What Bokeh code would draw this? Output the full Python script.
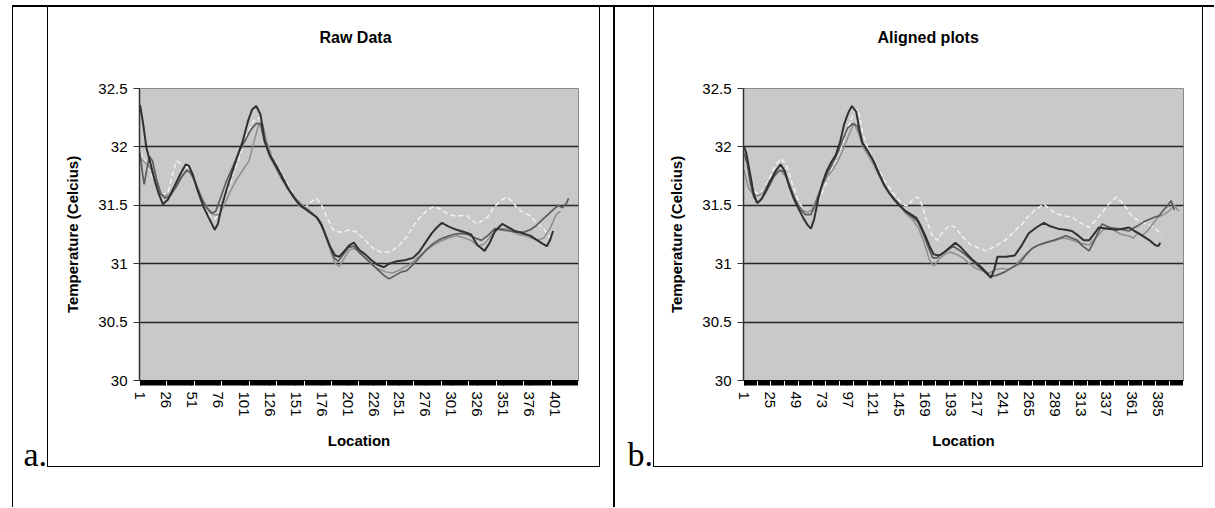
from bokeh.plotting import figure
from bokeh.models import Range1d, FixedTicker, Div, CustomJSTickFormatter, LinearAxis
from bokeh.layouts import row, column
from bokeh.embed import file_html
from bokeh.resources import INLINE

# ---------------- data ----------------
raw_title = "Raw Data"
aligned_title = "Aligned plots"
x_label = "Location"
y_label = "Temperature (Celcius)"

raw_n_locations = 423
aligned_n_locations = 408
raw_ticks = [1, 26, 51, 76, 101, 126, 151, 176, 201, 226, 251, 276, 301, 326, 351, 376, 401]
aligned_ticks = [1, 25, 49, 73, 97, 121, 145, 169, 193, 217, 241, 265, 289, 313, 337, 361, 385]
temp_ticks = [30, 30.5, 31, 31.5, 32, 32.5]

raw_dark = [(1, 32.36), (4, 32.2), (7, 32.0), (11, 31.86), (15, 31.72), (19, 31.6), (23, 31.51), (28, 31.55),
            (34, 31.66), (40, 31.77), (45, 31.85), (48, 31.84), (52, 31.76), (56, 31.64), (62, 31.49), (68, 31.38),
            (73, 31.29), (76, 31.34), (80, 31.5), (85, 31.65), (90, 31.79), (96, 31.95), (100, 32.05), (105, 32.22),
            (109, 32.32), (113, 32.35), (117, 32.28), (121, 32.06), (126, 31.93), (132, 31.84), (138, 31.74),
            (143, 31.65), (149, 31.57), (155, 31.5), (160, 31.47), (166, 31.43), (171, 31.4), (176, 31.33),
            (180, 31.24), (184, 31.15), (189, 31.07), (193, 31.06), (198, 31.11), (203, 31.16), (207, 31.18),
            (212, 31.12), (218, 31.08), (224, 31.03), (230, 30.99), (236, 30.97), (241, 31.0), (248, 31.02),
            (256, 31.03), (264, 31.05), (270, 31.1), (276, 31.18), (282, 31.26), (287, 31.31), (292, 31.35),
            (298, 31.32), (306, 31.29), (314, 31.27), (320, 31.25), (326, 31.16), (333, 31.11), (338, 31.18),
            (343, 31.28), (350, 31.34), (356, 31.31), (362, 31.28), (370, 31.26), (377, 31.24), (384, 31.2),
            (389, 31.17), (393, 31.15), (396, 31.2), (399, 31.28)]
raw_mid = [(1, 31.95), (3, 31.8), (5, 31.68), (7, 31.78), (10, 31.92), (13, 31.88), (17, 31.72), (21, 31.6),
           (25, 31.56), (30, 31.58), (36, 31.66), (41, 31.74), (46, 31.8), (50, 31.78), (55, 31.68), (60, 31.56),
           (65, 31.48), (70, 31.43), (74, 31.45), (78, 31.55), (84, 31.7), (90, 31.82), (96, 31.95), (102, 32.05),
           (108, 32.15), (113, 32.2), (117, 32.2), (121, 32.04), (126, 31.92), (132, 31.82), (138, 31.72),
           (144, 31.64), (150, 31.56), (156, 31.5), (162, 31.46), (168, 31.42), (173, 31.38), (178, 31.28),
           (183, 31.16), (188, 31.05), (192, 31.02), (197, 31.08), (202, 31.14), (207, 31.15), (212, 31.1),
           (218, 31.05), (224, 31.0), (230, 30.95), (236, 30.9), (241, 30.87), (247, 30.9), (253, 30.93),
           (258, 30.94), (265, 31.0), (271, 31.06), (277, 31.12), (283, 31.17), (290, 31.21), (296, 31.23),
           (303, 31.25), (310, 31.26), (317, 31.25), (324, 31.22), (330, 31.2), (336, 31.24), (343, 31.3),
           (350, 31.29), (357, 31.28), (364, 31.27), (371, 31.27), (377, 31.29), (382, 31.32), (388, 31.37),
           (394, 31.42), (400, 31.47), (404, 31.5), (408, 31.48), (412, 31.52), (414, 31.56)]
raw_light = [(1, 31.9), (4, 31.88), (8, 31.85), (12, 31.8), (16, 31.68), (20, 31.6), (25, 31.58), (30, 31.6),
             (36, 31.68), (42, 31.76), (47, 31.8), (52, 31.74), (57, 31.64), (62, 31.54), (67, 31.47), (72, 31.42),
             (77, 31.42), (82, 31.5), (88, 31.62), (94, 31.72), (100, 31.8), (106, 31.88), (111, 32.05),
             (115, 32.18), (119, 32.2), (123, 32.05), (128, 31.92), (134, 31.82), (140, 31.72), (146, 31.62),
             (152, 31.55), (158, 31.5), (164, 31.46), (170, 31.41), (175, 31.36), (180, 31.25), (185, 31.1),
             (189, 31.0), (193, 30.98), (198, 31.05), (203, 31.12), (208, 31.13), (214, 31.08), (220, 31.03),
             (226, 30.98), (232, 30.95), (238, 30.93), (244, 30.92), (250, 30.94), (256, 30.97), (262, 31.0),
             (268, 31.05), (275, 31.1), (282, 31.15), (290, 31.19), (298, 31.22), (306, 31.24), (314, 31.22),
             (320, 31.2), (327, 31.15), (333, 31.17), (340, 31.25), (347, 31.3), (354, 31.3), (360, 31.27),
             (366, 31.25), (372, 31.24), (378, 31.22), (384, 31.2), (390, 31.22), (396, 31.3), (402, 31.42),
             (406, 31.45)]
raw_white = [(1, 31.95), (8, 31.85), (15, 31.7), (22, 31.58), (28, 31.62), (36, 31.88), (44, 31.84), (50, 31.8),
             (56, 31.66), (62, 31.52), (68, 31.4), (73, 31.38), (78, 31.45), (85, 31.62), (92, 31.8), (98, 31.95),
             (104, 32.1), (110, 32.22), (116, 32.25), (121, 32.1), (127, 31.95), (133, 31.85), (140, 31.74),
             (147, 31.62), (154, 31.5), (160, 31.48), (166, 31.53), (171, 31.56), (176, 31.5), (182, 31.38),
             (188, 31.28), (195, 31.27), (203, 31.29), (210, 31.27), (218, 31.2), (226, 31.13), (233, 31.1),
             (242, 31.1), (250, 31.15), (258, 31.23), (265, 31.33), (271, 31.4), (278, 31.46), (284, 31.49),
             (290, 31.47), (297, 31.43), (303, 31.41), (310, 31.41), (316, 31.41), (321, 31.37), (326, 31.34),
             (331, 31.37), (336, 31.4), (341, 31.47), (345, 31.51), (350, 31.55), (355, 31.57), (360, 31.53),
             (364, 31.48), (370, 31.44), (377, 31.41), (383, 31.35), (389, 31.31), (393, 31.26), (397, 31.21)]

aligned_dark = [(1, 32.0), (3, 31.95), (6, 31.8), (10, 31.6), (13, 31.52), (17, 31.55), (21, 31.62), (25, 31.7),
                (30, 31.79), (35, 31.85), (39, 31.79), (43, 31.66), (47, 31.56), (51, 31.48), (56, 31.39),
                (60, 31.33), (63, 31.3), (66, 31.38), (70, 31.56), (74, 31.7), (78, 31.8), (82, 31.87), (86, 31.93),
                (90, 32.04), (94, 32.2), (98, 32.3), (101, 32.35), (105, 32.3), (108, 32.15), (111, 32.03),
                (116, 31.96), (121, 31.88), (126, 31.77), (131, 31.67), (136, 31.6), (141, 31.54), (146, 31.49),
                (151, 31.45), (156, 31.42), (161, 31.39), (165, 31.32), (169, 31.24), (173, 31.15), (177, 31.08),
                (182, 31.07), (187, 31.1), (192, 31.14), (197, 31.18), (202, 31.14), (207, 31.09), (212, 31.04),
                (216, 31.01), (221, 30.97), (226, 30.92), (230, 30.88), (233, 30.95), (236, 31.06), (244, 31.06),
                (252, 31.07), (258, 31.15), (265, 31.26), (272, 31.31), (279, 31.35), (285, 31.32), (292, 31.3),
                (299, 31.29), (305, 31.28), (311, 31.24), (316, 31.2), (321, 31.2), (326, 31.26), (330, 31.31),
                (338, 31.3), (346, 31.29), (352, 31.3), (358, 31.31), (363, 31.28), (367, 31.26), (372, 31.23),
                (377, 31.2), (382, 31.16), (385, 31.15), (387, 31.18)]
aligned_mid = [(1, 31.95), (4, 31.85), (7, 31.68), (10, 31.57), (14, 31.52), (19, 31.58), (24, 31.66), (29, 31.75),
               (34, 31.8), (38, 31.79), (43, 31.68), (48, 31.56), (53, 31.47), (58, 31.42), (63, 31.42), (67, 31.5),
               (72, 31.64), (77, 31.75), (82, 31.84), (87, 31.93), (92, 32.05), (97, 32.16), (102, 32.2),
               (106, 32.18), (110, 32.05), (115, 31.97), (120, 31.9), (126, 31.78), (131, 31.68), (136, 31.6),
               (141, 31.55), (146, 31.5), (151, 31.44), (157, 31.4), (162, 31.36), (167, 31.26), (172, 31.14),
               (176, 31.05), (180, 31.05), (185, 31.09), (190, 31.12), (195, 31.15), (200, 31.12), (206, 31.08),
               (212, 31.03), (218, 30.98), (224, 30.93), (229, 30.89), (235, 30.9), (243, 30.93), (250, 30.97),
               (256, 31.0), (262, 31.07), (268, 31.13), (274, 31.16), (281, 31.18), (288, 31.2), (294, 31.22),
               (299, 31.24), (305, 31.22), (310, 31.2), (315, 31.15), (321, 31.11), (326, 31.2), (333, 31.34),
               (340, 31.31), (347, 31.3), (353, 31.29), (358, 31.28), (363, 31.31), (367, 31.33), (372, 31.36),
               (377, 31.38), (382, 31.4), (386, 31.41), (390, 31.46), (394, 31.5), (397, 31.54), (400, 31.46)]
aligned_light = [(1, 31.8), (5, 31.65), (9, 31.6), (13, 31.58), (18, 31.6), (24, 31.7), (30, 31.78), (35, 31.8),
                 (40, 31.74), (45, 31.62), (50, 31.52), (55, 31.46), (60, 31.44), (64, 31.46), (68, 31.55),
                 (73, 31.66), (78, 31.74), (83, 31.8), (88, 31.88), (93, 31.98), (98, 32.1), (103, 32.2),
                 (107, 32.12), (111, 32.0), (116, 31.93), (121, 31.85), (127, 31.74), (133, 31.64), (139, 31.56),
                 (145, 31.5), (151, 31.43), (157, 31.38), (163, 31.3), (168, 31.18), (173, 31.03), (177, 30.98),
                 (182, 31.04), (187, 31.08), (192, 31.1), (198, 31.08), (204, 31.05), (210, 31.0), (216, 30.96),
                 (222, 30.94), (228, 30.92), (234, 30.95), (240, 30.96), (246, 30.95), (252, 30.98), (258, 31.04),
                 (264, 31.1), (270, 31.14), (277, 31.17), (284, 31.19), (290, 31.2), (297, 31.22), (303, 31.21),
                 (309, 31.19), (315, 31.17), (321, 31.16), (327, 31.22), (333, 31.28), (339, 31.32), (345, 31.28),
                 (351, 31.25), (357, 31.24), (362, 31.22), (366, 31.26), (370, 31.24), (375, 31.28), (380, 31.34),
                 (385, 31.4), (390, 31.42), (395, 31.45), (400, 31.5), (404, 31.45)]
aligned_white = [(1, 31.95), (6, 31.75), (12, 31.6), (18, 31.62), (24, 31.72), (30, 31.84), (35, 31.9), (40, 31.85),
                 (46, 31.68), (52, 31.52), (58, 31.45), (63, 31.42), (68, 31.48), (74, 31.62), (80, 31.76),
                 (86, 31.88), (92, 32.02), (98, 32.18), (103, 32.3), (107, 32.32), (111, 32.12), (116, 31.98),
                 (121, 31.9), (126, 31.8), (132, 31.7), (138, 31.62), (144, 31.55), (150, 31.5), (154, 31.5),
                 (158, 31.56), (162, 31.57), (166, 31.5), (170, 31.38), (175, 31.25), (180, 31.2), (186, 31.28),
                 (192, 31.33), (197, 31.31), (203, 31.24), (210, 31.17), (217, 31.14), (225, 31.11), (234, 31.15),
                 (243, 31.2), (251, 31.27), (259, 31.34), (265, 31.41), (271, 31.46), (279, 31.51), (284, 31.47),
                 (290, 31.43), (297, 31.41), (305, 31.4), (313, 31.35), (321, 31.31), (328, 31.38), (334, 31.45),
                 (340, 31.52), (346, 31.57), (351, 31.53), (356, 31.47), (361, 31.4), (367, 31.37), (374, 31.34),
                 (381, 31.31), (386, 31.27), (389, 31.25)]

# ---------------- styling ----------------
SANS = "Liberation Sans"
SERIF = "Liberation Serif"
PLOT_BG = "#c9c9c9"
SERIES_STYLE = [
    ("white", dict(line_color="#f2f2f2", line_width=1.5, line_dash="5 3")),
    ("light", dict(line_color="#8e8e8e", line_width=1.5)),
    ("mid", dict(line_color="#5c5c5c", line_width=1.7)),
    ("dark", dict(line_color="#303030", line_width=2)),
]

FIG_H = 459
FRAME_TOP = 81
FRAME_BOTTOM = 86
TITLE_GAP = 38   # empty room between the title and the plot frame


def make_chart(title, title_offset, n_loc, ticks, series, width, border_left, border_right):
    p = figure(width=width, height=FIG_H, output_backend="svg", toolbar_location=None,
               x_range=Range1d(0.5, n_loc + 0.5), y_range=Range1d(30, 32.5),
               min_border_left=border_left, min_border_right=border_right,
               min_border_top=FRAME_TOP, min_border_bottom=FRAME_BOTTOM, margin=0)
    p.background_fill_color = PLOT_BG
    p.border_fill_color = "white"
    p.outline_line_color = "#8a8a8a"
    p.outline_line_width = 1

    p.title.text = title
    p.title.align = "left"
    p.title.offset = title_offset
    p.title.standoff = 10
    p.title.text_font = SANS
    p.title.text_font_size = "16px"
    p.title.text_font_style = "bold"
    p.title.text_color = "black"

    fmt = CustomJSTickFormatter(code="return String(tick);")

    xa = p.below[0]
    xa.ticker = FixedTicker(ticks=ticks, minor_ticks=list(range(1, n_loc + 1)))
    xa.formatter = fmt
    xa.axis_line_color = "black"
    xa.major_tick_line_color = "black"
    xa.minor_tick_line_color = "black"
    xa.major_tick_in = 0
    xa.major_tick_out = 5
    xa.minor_tick_in = 0
    xa.minor_tick_out = 5
    xa.major_label_orientation = "vertical"
    xa.major_label_standoff = 6
    xa.major_label_text_font = SANS
    xa.major_label_text_font_size = "15px"
    xa.major_label_text_color = "black"
    xa.axis_label = x_label
    xa.axis_label_text_font = SANS
    xa.axis_label_text_font_size = "15px"
    xa.axis_label_text_font_style = "bold"
    xa.axis_label_text_color = "black"
    xa.axis_label_standoff = 12

    ya = p.left[0]
    ya.ticker = FixedTicker(ticks=temp_ticks)
    ya.formatter = fmt
    ya.axis_line_color = "#303030"
    ya.axis_line_width = 1.5
    ya.major_tick_line_color = "#303030"
    ya.major_tick_in = 0
    ya.major_tick_out = 6
    ya.minor_tick_line_color = None
    ya.major_label_standoff = 6
    ya.major_label_text_font = SANS
    ya.major_label_text_font_size = "15px"
    ya.major_label_text_color = "black"
    ya.axis_label = y_label
    ya.axis_label_text_font = SANS
    ya.axis_label_text_font_size = "15px"
    ya.axis_label_text_font_style = "bold"
    ya.axis_label_text_color = "black"
    ya.axis_label_standoff = 14

    p.xgrid.visible = False
    p.ygrid.ticker = FixedTicker(ticks=temp_ticks)
    p.ygrid.grid_line_color = "#262626"
    p.ygrid.grid_line_width = 1.5

    for name, style in SERIES_STYLE:
        pts = series[name]
        p.line([a for a, _ in pts], [b for _, b in pts], **style)

    # invisible spacer axis above the frame (one hidden tick, empty label) so the title sits higher
    gap = LinearAxis(ticker=FixedTicker(ticks=[ticks[0]]), axis_line_color=None,
                     formatter=CustomJSTickFormatter(code='return "";'),
                     major_tick_line_color=None, minor_tick_line_color=None,
                     major_tick_in=0, major_tick_out=TITLE_GAP, minor_tick_in=0, minor_tick_out=0,
                     major_label_standoff=0, major_label_text_font_size="1px")
    p.add_layout(gap, "above")
    return p


p1 = make_chart(raw_title, 180, raw_n_locations, raw_ticks,
                {"dark": raw_dark, "mid": raw_mid, "light": raw_light, "white": raw_white},
                width=551, border_left=91, border_right=21)
p2 = make_chart(aligned_title, 134, aligned_n_locations, aligned_ticks,
                {"dark": aligned_dark, "mid": aligned_mid, "light": aligned_light, "white": aligned_white},
                width=548, border_left=89, border_right=19)


def bar(w, h, color="black"):
    return Div(text="", width=w, height=h, margin=0, styles={"background-color": color})


def space(w, h):
    return Div(text="", width=w, height=h, margin=0)


def panel_letter(txt, w):
    letter = Div(text=txt, width=w, height=40, margin=0,
                 styles={"text-align": "right", "font-family": SERIF, "font-size": "34px",
                         "line-height": "34px", "color": "black"})
    return column(space(w, 431), letter, spacing=0, margin=0)


ROW_H = 500
box1 = column(row(bar(1, FIG_H), p1, bar(1, FIG_H), spacing=0, margin=0), bar(553, 1), spacing=0, margin=0)
box2 = column(row(bar(1, FIG_H), p2, bar(1, FIG_H), spacing=0, margin=0), bar(550, 1), spacing=0, margin=0)

main = row(
    space(12, ROW_H), bar(1, ROW_H), panel_letter("a.", 34), box1,
    space(13, ROW_H), bar(2, ROW_H), panel_letter("b.", 38), box2,
    spacing=0, margin=0,
)
top = row(space(12, 2), bar(1202, 2), spacing=0, margin=0)
page = column(space(10, 5), top, main, spacing=0, margin=0)

open("out.html", "w").write(file_html(page, INLINE))
